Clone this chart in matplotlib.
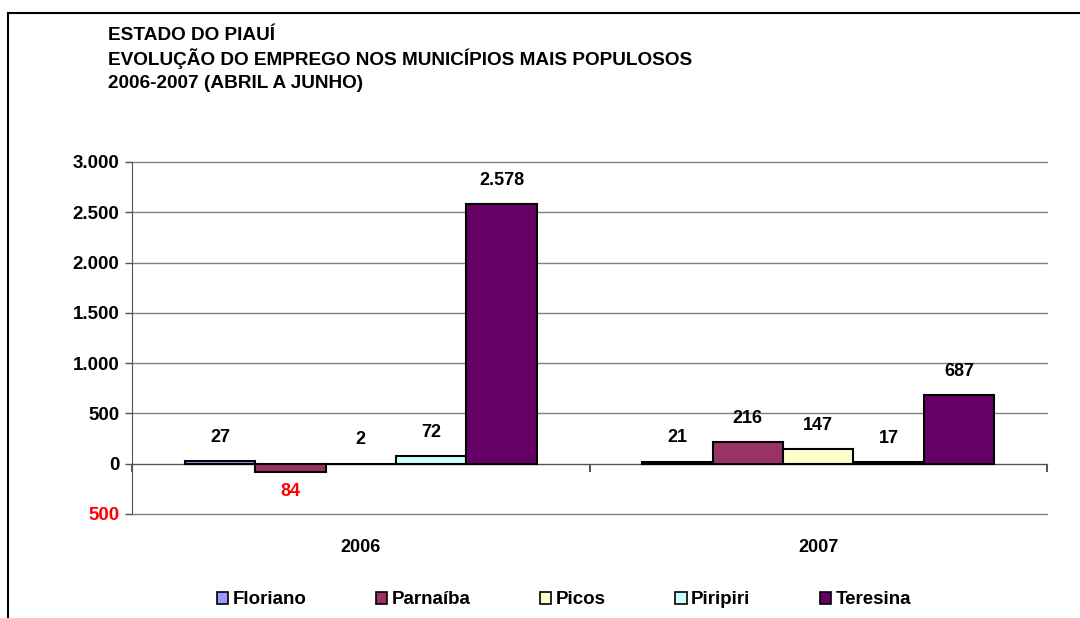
import matplotlib.pyplot as plt
import matplotlib.ticker as ticker
import matplotlib.transforms as mtransforms
from matplotlib.patches import Patch
from matplotlib.lines import Line2D
import numpy as np

plt.rcParams['font.family'] = ['Liberation Sans', 'DejaVu Sans']
plt.rcParams['font.weight'] = 'bold'

# saldo de empregos (abril a junho) por município
anos = ['2006', '2007']
municipios = ['Floriano', 'Parnaíba', 'Picos', 'Piripiri', 'Teresina']
floriano = [27, 21]
parnaiba = [-84, 216]
picos = [2, 147]
piripiri = [72, 17]
teresina = [2578, 687]
cores = ['#9999FF', '#993366', '#FFFFCC', '#CCFFFF', '#660066']

titulo = ['ESTADO DO PIAUÍ',
          'EVOLUÇÃO DO EMPREGO NOS MUNICÍPIOS MAIS POPULOSOS',
          '2006-2007 (ABRIL A JUNHO)']


def fmt_num(v):
    # formato brasileiro, negativos em vermelho sem sinal
    return f'{abs(v):,.0f}'.replace(',', '.')


fig = plt.figure(figsize=(10.8, 6.18), dpi=100)
ax = fig.add_axes([132 / 1080, 1 - 514 / 618, 915 / 1080, 352 / 618])

series = [floriano, parnaiba, picos, piripiri, teresina]
x = np.arange(len(anos))
largura = 1 / (len(series) + 1.5)

for j, (nome, valores, cor) in enumerate(zip(municipios, series, cores)):
    pos = x + (j - 2) * largura
    ax.bar(pos, valores, width=largura, color=cor, edgecolor='black',
           linewidth=1.5, zorder=3)
    for px, v in zip(pos, valores):
        if v >= 0:
            ax.annotate(fmt_num(v), (px, v), xytext=(0, 17),
                        textcoords='offset points', ha='center', va='center',
                        fontsize=13, fontweight='bold', color='black')
        else:
            ax.annotate(fmt_num(v), (px, v), xytext=(0, -14),
                        textcoords='offset points', ha='center', va='center',
                        fontsize=13, fontweight='bold', color='red')

ax.set_xlim(-0.5, len(anos) - 0.5)
ax.set_ylim(-500, 3000)

# eixo y
ax.set_yticks(np.arange(-500, 3001, 500))
ax.yaxis.set_major_formatter(ticker.FuncFormatter(lambda v, p: fmt_num(v)))
ax.tick_params(axis='y', length=5, width=1, color='#555555', labelsize=13.5,
               pad=4)
for lbl, v in zip(ax.get_yticklabels(), ax.get_yticks()):
    lbl.set_fontweight('bold')
    if v < 0:
        lbl.set_color('red')
ax.grid(axis='y', color='#808080', linewidth=1, zorder=0)
for gl in ax.get_ygridlines():
    gl.set_clip_on(False)

# eixo x na linha do zero, com marcas entre as categorias
ax.spines['bottom'].set_position(('data', 0))
ax.spines['bottom'].set_color('#555555')
ax.spines['left'].set_color('#555555')
ax.spines['top'].set_visible(False)
ax.spines['right'].set_visible(False)
ax.set_xticks([])
ax.set_xticks(np.arange(-0.5, len(anos), 1), minor=True)
ax.tick_params(axis='x', which='minor', length=6, width=1.2,
               color='#333333', labelbottom=False)

trans = mtransforms.blended_transform_factory(ax.transData, ax.transAxes)
for xi, ano in zip(x, anos):
    ax.text(xi, -34 / 352, ano, transform=trans, ha='center', va='center',
            fontsize=13, fontweight='bold')

# título
for i, linha in enumerate(titulo):
    fig.text(108 / 1080, 1 - (35 + 24 * i) / 618, linha, ha='left',
             va='center', fontsize=13.7, fontweight='bold')

# legenda
handles = [Patch(facecolor=c, edgecolor='black', linewidth=1.2)
           for c in cores]
fig.legend(handles, municipios, loc='center', ncol=5, frameon=False,
           bbox_to_anchor=(564 / 1080, 1 - 600 / 618),
           handlelength=0.6, handleheight=0.6, handletextpad=0.25,
           columnspacing=3.7, prop={'weight': 'bold', 'size': 13.5})

# moldura da área do gráfico
fig.add_artist(Line2D([8 / 1080, 8 / 1080], [-0.1, 1 - 13 / 618],
                      color='black', linewidth=1.5))
fig.add_artist(Line2D([8 / 1080, 1.1], [1 - 13 / 618, 1 - 13 / 618],
                      color='black', linewidth=1.5))

fig.savefig('out.png', dpi=100)
